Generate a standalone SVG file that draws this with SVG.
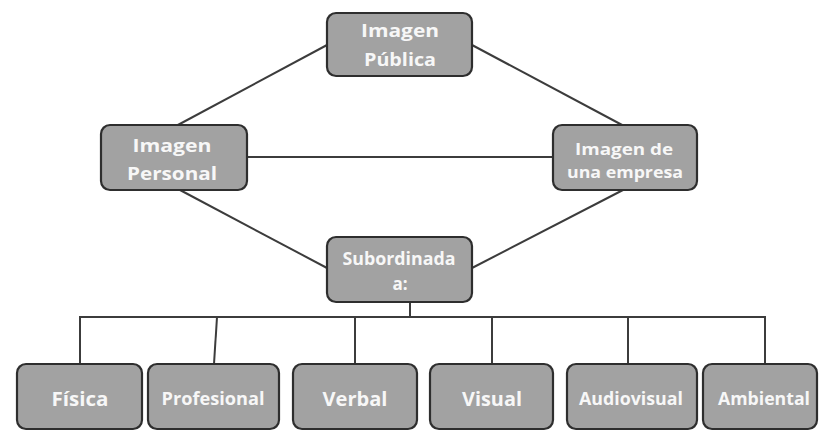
<svg xmlns="http://www.w3.org/2000/svg" width="819" height="440" viewBox="0 0 819 440">
<style>
.box{fill:#a2a2a2;stroke:#2e2e2e;stroke-width:2.2}
.t{font-family:"Open Sans","DejaVu Sans",sans-serif;font-weight:bold;fill:#f7f7f7;text-anchor:middle}
.c{stroke:#3c3c3c;stroke-width:2;fill:none}
</style>
<rect width="819" height="440" fill="#ffffff"/>
<g id="connectors">
<line class="c" x1="327" y1="45" x2="176" y2="126"/>
<line class="c" x1="472" y1="45" x2="624" y2="126"/>
<line class="c" x1="247" y1="157" x2="553" y2="157"/>
<line class="c" x1="180" y1="190" x2="327" y2="268"/>
<line class="c" x1="623" y1="190" x2="472" y2="268"/>
<line class="c" x1="410" y1="302" x2="410" y2="317"/>
<line class="c" x1="79" y1="317" x2="766" y2="317"/>
<line class="c" x1="80" y1="317" x2="80" y2="364"/>
<line class="c" x1="217" y1="317" x2="214" y2="364"/>
<line class="c" x1="355" y1="317" x2="355" y2="364"/>
<line class="c" x1="492" y1="317" x2="492" y2="364"/>
<line class="c" x1="628" y1="317" x2="628" y2="364"/>
<line class="c" x1="765" y1="317" x2="765" y2="364"/>
</g>
<g id="imagen-publica">
<rect class="box" x="327" y="13" width="145" height="63" rx="9"/>
<text class="t" x="400" y="37" font-size="18" textLength="78" lengthAdjust="spacingAndGlyphs">Imagen</text>
<text class="t" x="400" y="66" font-size="18" textLength="72" lengthAdjust="spacingAndGlyphs">Pública</text>
</g>
<g id="imagen-personal">
<rect class="box" x="101" y="125" width="146" height="65" rx="9"/>
<text class="t" x="172" y="152" font-size="18" textLength="79" lengthAdjust="spacingAndGlyphs">Imagen</text>
<text class="t" x="172" y="180" font-size="18" textLength="90" lengthAdjust="spacingAndGlyphs">Personal</text>
</g>
<g id="imagen-empresa">
<rect class="box" x="553" y="125" width="144" height="65" rx="9"/>
<text class="t" x="624" y="155" font-size="16" textLength="98" lengthAdjust="spacingAndGlyphs">Imagen de</text>
<text class="t" x="625" y="178" font-size="16" textLength="116" lengthAdjust="spacingAndGlyphs">una empresa</text>
</g>
<g id="subordinada">
<rect class="box" x="327" y="237" width="145" height="65" rx="9"/>
<text class="t" x="399" y="265" font-size="17" textLength="113" lengthAdjust="spacingAndGlyphs">Subordinada</text>
<text class="t" x="400" y="290" font-size="17">a:</text>
</g>
<g id="fisica">
<rect class="box" x="17" y="364" width="125" height="65" rx="9"/>
<text class="t" x="80" y="406" font-size="19" textLength="57" lengthAdjust="spacingAndGlyphs">Física</text>
</g>
<g id="profesional">
<rect class="box" x="148" y="364" width="131" height="65" rx="9"/>
<text class="t" x="213" y="405" font-size="17" textLength="103" lengthAdjust="spacingAndGlyphs">Profesional</text>
</g>
<g id="verbal">
<rect class="box" x="293" y="364" width="124" height="65" rx="9"/>
<text class="t" x="355" y="406" font-size="19" textLength="65" lengthAdjust="spacingAndGlyphs">Verbal</text>
</g>
<g id="visual">
<rect class="box" x="430" y="364" width="123" height="65" rx="9"/>
<text class="t" x="492" y="406" font-size="19" textLength="60" lengthAdjust="spacingAndGlyphs">Visual</text>
</g>
<g id="audiovisual">
<rect class="box" x="567" y="364" width="130" height="65" rx="9"/>
<text class="t" x="631" y="405" font-size="17" textLength="104" lengthAdjust="spacingAndGlyphs">Audiovisual</text>
</g>
<g id="ambiental">
<rect class="box" x="703" y="364" width="114" height="65" rx="9"/>
<text class="t" x="764" y="405" font-size="17" textLength="92" lengthAdjust="spacingAndGlyphs">Ambiental</text>
</g>
</svg>
